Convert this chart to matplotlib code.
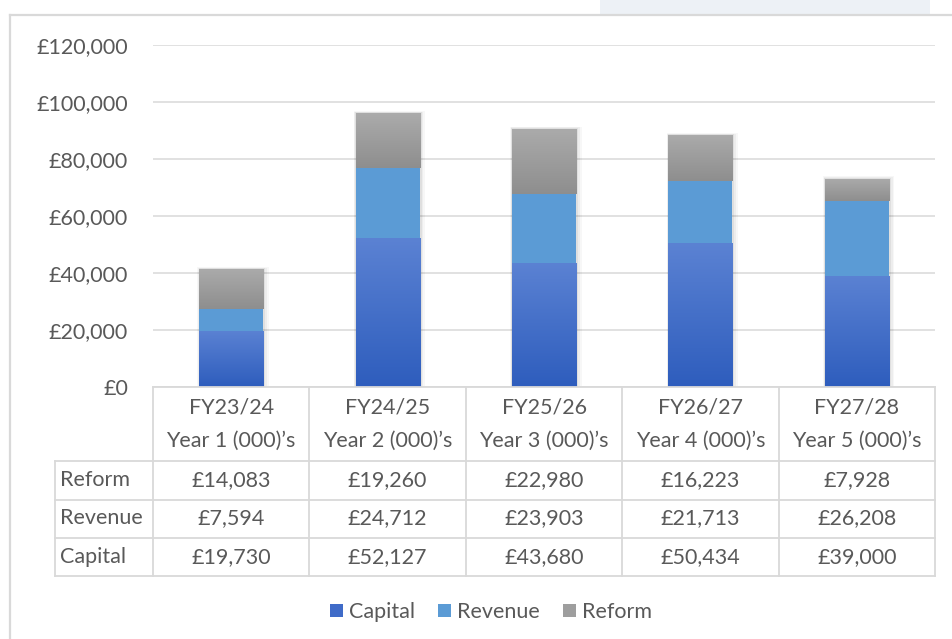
import matplotlib
matplotlib.use("Agg")
import matplotlib.pyplot as plt
import numpy as np
from matplotlib.colors import LinearSegmentedColormap
from matplotlib.patches import Rectangle
from matplotlib.lines import Line2D

# ---- data ----
fy_labels = ["FY23/24", "FY24/25", "FY25/26", "FY26/27", "FY27/28"]
year_labels = ["Year 1 (000)’s", "Year 2 (000)’s", "Year 3 (000)’s", "Year 4 (000)’s", "Year 5 (000)’s"]
capital = [19730, 52127, 43680, 50434, 39000]
revenue = [7594, 24712, 23903, 21713, 26208]
reform = [14083, 19260, 22980, 16223, 7928]
y_ticks = [0, 20000, 40000, 60000, 80000, 100000, 120000]

FONT = "Lato"
TXT = "#595959"
GRID = "#D9D9D9"
FS = 15.5

plt.rcParams['font.family'] = [FONT, 'DejaVu Sans']

W, H = 952, 639
fig = plt.figure(figsize=(W / 100, H / 100), dpi=100)

def fx(px):
    return px / W

def fy(py):
    return 1 - py / H

# frame & top band
fig.patches.append(Rectangle((fx(600), fy(15)), fx(330), 15 / H, transform=fig.transFigure,
                             facecolor="#EDF1F6", edgecolor="none", zorder=0))
fig.add_artist(Line2D([fx(10), fx(10)], [fy(15), 0], transform=fig.transFigure, color=GRID, lw=1.6))
fig.add_artist(Line2D([fx(10), 1], [fy(15), fy(15)], transform=fig.transFigure, color=GRID, lw=1.6))

left, right, top, bottom = 153, 935, 45, 387
ax = fig.add_axes([fx(left), fy(bottom), fx(right - left), (bottom - top) / H])
n = len(fy_labels)
x = np.arange(n)
bw = 0.41

cap_cmap = LinearSegmentedColormap.from_list("cap", ["#2E5DBD", "#5B82D3"])
ref_cmap = LinearSegmentedColormap.from_list("ref", ["#8E8E8E", "#ABABAB"])
grad = np.linspace(0, 1, 256).reshape(-1, 1)

def draw_shadow(xc, h):
    for k, a in [(3, 0.03), (2, 0.04), (1, 0.055)]:
        dx = 0.012 * k
        sh = Rectangle((xc - bw / 2 - dx * 0.3, 0), bw + dx * 1.3, h + 250 * k,
                       facecolor="black", edgecolor="none", alpha=a, zorder=2)
        ax.add_patch(sh)

def draw_segment(xc, y0, h, cmap=None, color=None):
    rect = Rectangle((xc - bw / 2, y0), bw, h, facecolor=color if color else "none",
                     edgecolor="none", zorder=3)
    ax.add_patch(rect)
    if cmap is not None:
        im = ax.imshow(grad, extent=[xc - bw / 2, xc + bw / 2, y0, y0 + h], origin="lower",
                       aspect="auto", cmap=cmap, zorder=3.5, interpolation="bilinear")
        im.set_clip_path(rect)

for i in range(n):
    total = capital[i] + revenue[i] + reform[i]
    draw_shadow(x[i], total)
    draw_segment(x[i], 0, capital[i], cmap=cap_cmap)
    draw_segment(x[i], capital[i], revenue[i], color="#5B9BD5")
    draw_segment(x[i], capital[i] + revenue[i], reform[i], cmap=ref_cmap)

ax.set_xlim(-0.5, n - 0.5)
ax.set_ylim(0, 120000)
ax.set_yticks(y_ticks)
ax.set_yticklabels([f"£{v:,.0f}" for v in y_ticks], fontsize=FS, color=TXT)
ax.tick_params(axis="y", length=0, pad=18)
ax.set_xticks([])
for s in ax.spines.values():
    s.set_visible(False)
ax.yaxis.grid(True, color=GRID, lw=1.1)
ax.set_axisbelow(True)
ax.patch.set_alpha(0)

# ---- data table ----
tb_top, tb_bot = 387, 576
tax = fig.add_axes([fx(left), fy(tb_bot), fx(right - left), (tb_bot - tb_top) / H])
tax.set_xlim(-0.5, n - 0.5)
tax.set_ylim(tb_bot - tb_top, 0)
tax.axis("off")
lab_left = -0.5 - (left - 55) / ((right - left) / n)
row_edges = [0, 74, 112.5, 150.5, 189]
row_names = ["Reform", "Revenue", "Capital"]
row_vals = [reform, revenue, capital]
lc = GRID
lw = 1.3
tax.plot([-0.5, n - 0.5], [0, 0], color=lc, lw=lw, clip_on=False)
for r in row_edges[1:]:
    tax.plot([lab_left, n - 0.5], [r, r], color=lc, lw=lw, clip_on=False)
for k in range(n + 1):
    tax.plot([-0.5 + k, -0.5 + k], [0, row_edges[-1]], color=lc, lw=lw, clip_on=False)
tax.plot([lab_left, lab_left], [row_edges[1], row_edges[-1]], color=lc, lw=lw, clip_on=False)

for i in range(n):
    tax.text(x[i], 20, fy_labels[i], ha="center", va="center", fontsize=FS, color=TXT)
    tax.text(x[i], 54, year_labels[i], ha="center", va="center", fontsize=FS, color=TXT)
for r in range(3):
    yc = (row_edges[r + 1] + row_edges[r + 2]) / 2
    tax.text(lab_left + 0.035, yc, row_names[r], ha="left", va="center", fontsize=FS, color=TXT,
             clip_on=False)
    for i in range(n):
        tax.text(x[i], yc, f"£{row_vals[r][i]:,.0f}", ha="center", va="center", fontsize=FS, color=TXT)

# ---- legend ----
handles = [Rectangle((0, 0), 1, 1, facecolor=c, edgecolor="none") for c in ["#3F6BC8", "#5B9BD5", "#9E9E9E"]]
fig.legend(handles, ["Capital", "Revenue", "Reform"], loc="center", bbox_to_anchor=(fx(491), fy(612)),
           ncol=3, frameon=False, fontsize=FS, labelcolor=TXT, handlelength=0.6, handleheight=0.6,
           handletextpad=0.25, columnspacing=1.1)

fig.savefig("out.png", dpi=100, facecolor="white")
